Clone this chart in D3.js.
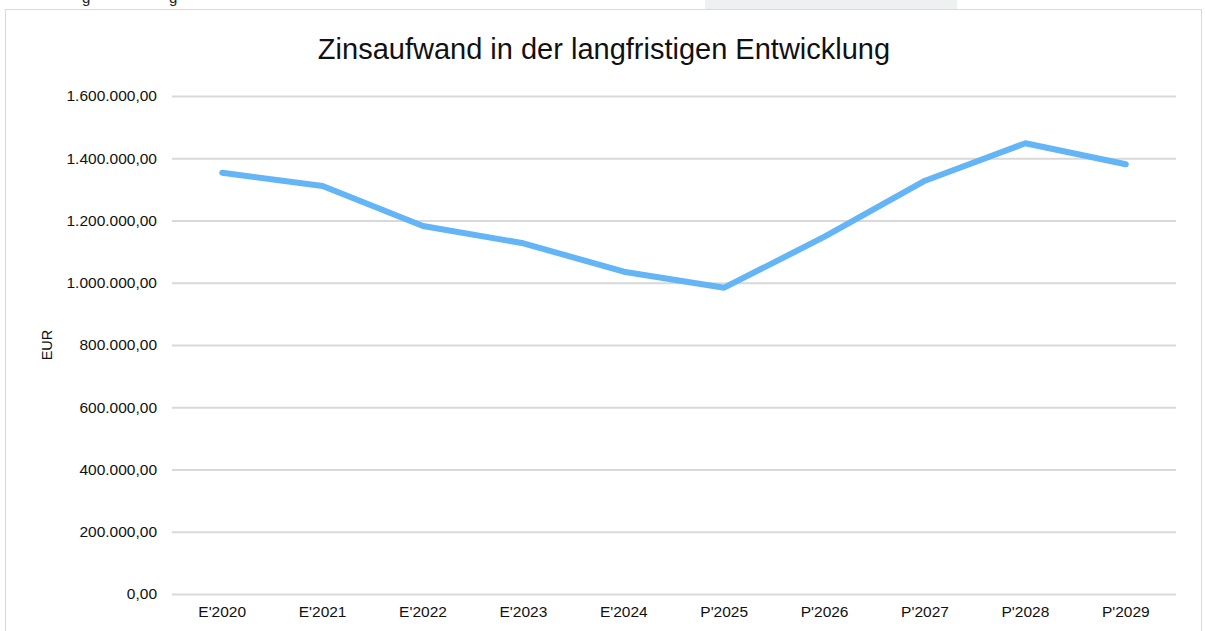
<!DOCTYPE html>
<html><head><meta charset="utf-8">
<script src="https://cdn.jsdelivr.net/npm/d3@7"></script>
<style>
html,body{margin:0;padding:0;background:#fff;}
svg{display:block;font-family:"Liberation Sans",Arial,sans-serif;}
</style></head>
<body>
<svg id="c" width="1205" height="631"></svg>
<script>
const categories = ["E'2020","E'2021","E'2022","E'2023","E'2024","P'2025","P'2026","P'2027","P'2028","P'2029"];
const values = [1353600,1310800,1182300,1126700,1035500,984100,1148000,1327900,1448000,1380600];
const yTicks = [0,200000,400000,600000,800000,1000000,1200000,1400000,1600000];
const title = "Zinsaufwand in der langfristigen Entwicklung";
const yAxisTitle = "EUR";

const svg = d3.select("#c");
// page remnants above the chart frame
svg.append("rect").attr("x",705).attr("y",0).attr("width",252).attr("height",9).attr("fill","#eef0f1");
svg.append("text").attr("x",82).attr("y",3).attr("font-size",15).attr("fill","#222").text("g");
svg.append("text").attr("x",169).attr("y",3).attr("font-size",15).attr("fill","#222").text("g");
// chart frame
svg.append("rect").attr("x",5.5).attr("y",9.5).attr("width",1196).attr("height",630).attr("fill","#fff").attr("stroke","#d9d9d9").attr("stroke-width",1);

const x = d3.scaleBand().domain(categories).range([172,1176]);
const y = d3.scaleLinear().domain([0,1600000]).range([594,96]);
const fmt = v => d3.formatLocale({decimal:",",thousands:".",grouping:[3],currency:["","€"]}).format(",.2f")(v);

const gy = svg.append("g").attr("transform","translate(172,0)")
  .call(d3.axisLeft(y).tickValues(yTicks).tickFormat(fmt).tickSize(-1004).tickPadding(15));
gy.select(".domain").remove();
gy.selectAll(".tick line").attr("stroke","#d9d9d9").attr("stroke-width",2);
gy.selectAll(".tick text").attr("font-size",15.5).attr("fill","#111").attr("font-family","Liberation Sans, Arial, sans-serif");

const gx = svg.append("g").attr("transform","translate(0,594)")
  .call(d3.axisBottom(x).tickSize(0).tickPadding(12));
gx.select(".domain").remove();
gx.selectAll(".tick text").attr("font-size",15.5).attr("fill","#111").attr("font-family","Liberation Sans, Arial, sans-serif");

const line = d3.line().x((d,i)=>x(categories[i])+x.bandwidth()/2).y(d=>y(d));
svg.append("path").datum(values).attr("d",line).attr("fill","none")
  .attr("stroke","#64b5f6").attr("stroke-width",6).attr("stroke-linejoin","round").attr("stroke-linecap","round");

svg.append("text").attr("x",604).attr("y",59).attr("text-anchor","middle").attr("font-size",29).attr("fill","#111").text(title);
svg.append("text").attr("transform","translate(52,345) rotate(-90)").attr("text-anchor","middle").attr("font-size",14.5).attr("fill","#111").text(yAxisTitle);
</script>
</body></html>
